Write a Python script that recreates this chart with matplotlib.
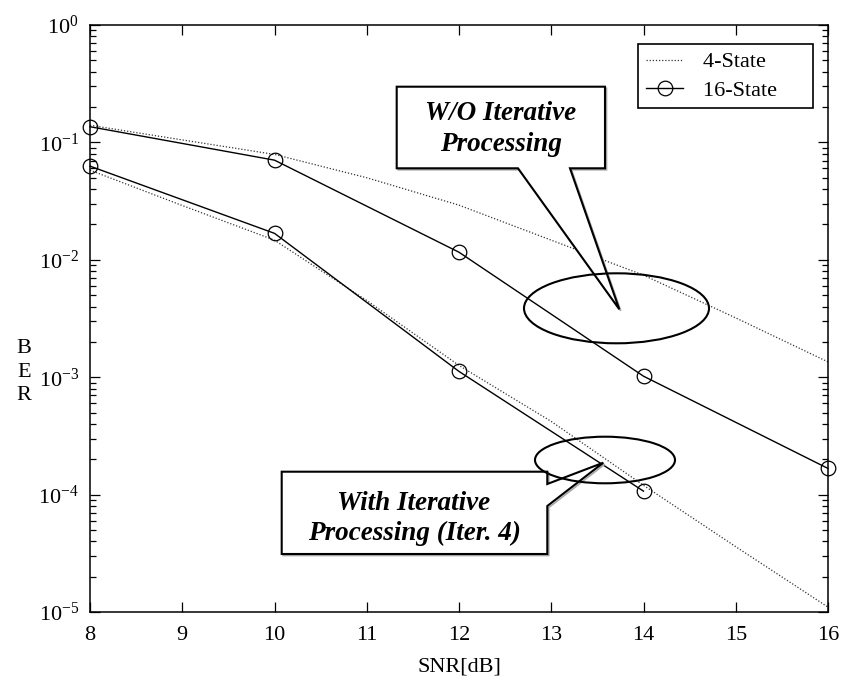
import math
import matplotlib
matplotlib.use("Agg")
import matplotlib.pyplot as plt
import matplotlib.ticker as mticker
import matplotlib.transforms as mtransforms
from matplotlib.patches import Polygon, Ellipse

plt.rcParams['font.family'] = ['Liberation Serif', 'DejaVu Serif']
plt.rcParams['mathtext.fontset'] = 'custom'
plt.rcParams['mathtext.rm'] = 'Liberation Serif'
plt.rcParams['mathtext.it'] = 'Liberation Serif:italic'
plt.rcParams['mathtext.bf'] = 'Liberation Serif:bold'

# 4-state trellis, evaluated every dB
snr_4 = [8, 9, 10, 11, 12, 13, 14, 15, 16]
ber_4_no_iter = [0.14, 0.105, 0.079, 0.050, 0.0292, 0.0147, 0.0074, 0.0032, 0.00135]
ber_4_iter4 = [0.058, 0.029, 0.0147, 0.0045, 0.00126, 0.00042, 0.00012, 3.6e-5, 1.1e-5]

# 16-state trellis
snr_16_no_iter = [8, 10, 12, 14, 16]
ber_16_no_iter = [0.136, 0.0706, 0.0116, 0.00102, 0.000167]
snr_16_iter4 = [8, 10, 12, 14]
ber_16_iter4 = [0.0628, 0.0168, 0.00112, 0.000107]

W, H = 842, 679
fig = plt.figure(figsize=(W / 100, H / 100), dpi=100)
ax = fig.add_axes([90 / W, 1 - 612 / H, (828 - 90) / W, (612 - 25) / H])

dot_kw = dict(color='#333333', linestyle=(0, (1, 1.5)), linewidth=0.9)
sol_kw = dict(color='black', linestyle='-', linewidth=1.0, marker='o',
              markersize=10.5, markerfacecolor='none', markeredgewidth=0.9,
              clip_on=False)

ax.plot(snr_4, ber_4_no_iter, label='4-State     ', **dot_kw)
ax.plot(snr_16_no_iter, ber_16_no_iter, label='16-State     ', **sol_kw)
ax.plot(snr_4, ber_4_iter4, **dot_kw)
ax.plot(snr_16_iter4, ber_16_iter4, **sol_kw)

ax.set_yscale('log')
ax.set_xlim(8, 16)
ax.set_ylim(1e-5, 1)
ax.xaxis.set_major_locator(mticker.MultipleLocator(1))
ax.yaxis.set_major_locator(mticker.LogLocator(base=10, numticks=10))
ax.yaxis.set_minor_locator(mticker.LogLocator(base=10, subs=range(2, 10), numticks=10))
ax.yaxis.set_minor_formatter(mticker.NullFormatter())
ax.yaxis.set_major_formatter(mticker.FuncFormatter(
    lambda v, p: r'$\mathregular{10^{%d}}$' % round(math.log10(v))))

ax.tick_params(which='both', direction='in', top=True, right=True, labelsize=16, width=0.9)
ax.tick_params(which='major', length=7)
ax.tick_params(axis='x', which='major', pad=10)
ax.tick_params(axis='y', which='major', pad=8)
ax.tick_params(which='minor', length=4)
for s in ax.spines.values():
    s.set_linewidth(1.1)

ax.set_xlabel('SNR[dB]', fontsize=16, labelpad=9)
fig.text(24 / W, 1 - 372 / H, 'B\nE\nR', fontsize=16, ha='center', va='center',
         linespacing=1.35)

leg = ax.legend(loc='upper right', bbox_to_anchor=(813 / W, 1 - 44 / H),
                bbox_transform=fig.transFigure, borderaxespad=0, fontsize=16,
                handlelength=1.66, handletextpad=0.9, borderpad=0.35,
                labelspacing=0.35, fancybox=False, framealpha=1, edgecolor='black')
leg.get_frame().set_linewidth(1.2)

# callouts, positioned in figure pixel units (origin top-left)
px = mtransforms.Affine2D().scale(1 / W, -1 / H).translate(0, 1) + fig.transFigure

upper_callout = [(396.7, 86.7), (605, 86.7), (605, 168.3), (570, 168.3),
                 (619.3, 309.3), (518, 168.3), (396.7, 168.3)]
lower_callout = [(281.7, 471.7), (547.3, 471.7), (547.3, 484), (603.3, 462.7),
                 (547.3, 506), (547.3, 554), (281.7, 554)]
for pts in (upper_callout, lower_callout):
    fig.patches.append(Polygon([(x + 1.5, y + 1.5) for x, y in pts], closed=True,
                               transform=px, facecolor='none', edgecolor='#aaaaaa',
                               linewidth=1.2, zorder=4))
    fig.patches.append(Polygon(pts, closed=True, transform=px, facecolor='white',
                               edgecolor='black', linewidth=1.5, zorder=5))

fig.patches.append(Ellipse((616.5, 308.3), 185, 70, transform=px, facecolor='none',
                           edgecolor='black', linewidth=1.5, zorder=6))
fig.patches.append(Ellipse((605, 460), 140, 46.6, transform=px, facecolor='none',
                           edgecolor='black', linewidth=1.5, zorder=6))

txt_kw = dict(fontsize=19.5, fontweight='bold', fontstyle='italic', ha='center',
              va='center', transform=px, zorder=7, linespacing=1.3)
fig.text(501, 129, 'W/O Iterative\nProcessing', **txt_kw)
fig.text(414, 518.5, 'With Iterative\nProcessing (Iter. 4)', **txt_kw)

fig.savefig('out.png', dpi=100)
